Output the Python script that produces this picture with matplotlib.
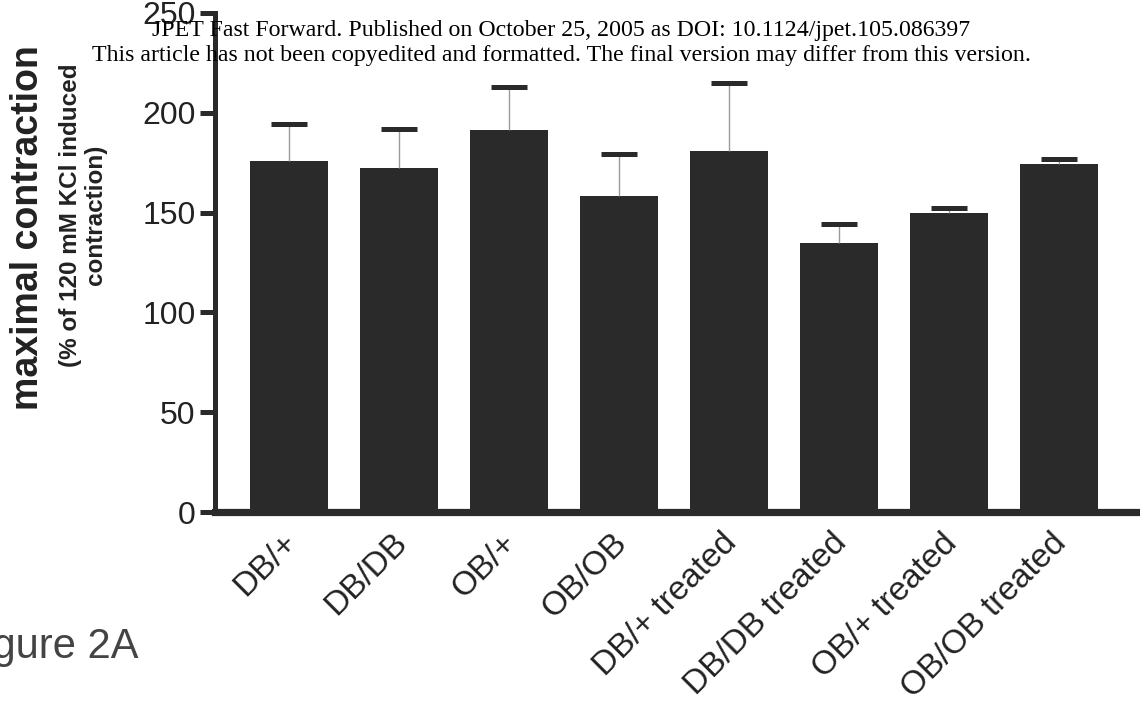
import numpy as np
import matplotlib.pyplot as plt
import matplotlib.transforms as mtransforms

groups = ["DB/+", "DB/DB", "OB/+", "OB/OB",
          "DB/+ treated", "DB/DB treated", "OB/+ treated", "OB/OB treated"]
means = [176, 172.5, 191.5, 158.5, 181, 135, 150, 174.5]
upper = [194.5, 192, 213, 179.5, 215, 144.5, 152.5, 177]
yticks = [0, 50, 100, 150, 200, 250]

W, H = 1140, 703
plt.rcParams['font.family'] = ['Liberation Sans', 'DejaVu Sans']

fig = plt.figure(figsize=(W / 100, H / 100), dpi=100)
ax = fig.add_axes([215 / W, 191 / H, (W - 215) / W, 499 / H])

x = np.arange(len(groups))
sem = np.array(upper) - np.array(means)
dark = '#2a2a2a'

ax.bar(x, means, width=0.71, color=dark, zorder=2)
eb = ax.errorbar(x, means, yerr=[np.zeros_like(sem), sem], fmt='none',
                 ecolor='#9a9a9a', elinewidth=1.0, capsize=13, capthick=3.6,
                 zorder=3)
for cap in eb[1]:
    cap.set_markeredgecolor(dark)
    # only the upper caps are shown; the lower ones sit on the bar tops
    if np.allclose(cap.get_ydata(), means):
        cap.set_visible(False)

ax.set_xlim(-0.673, 7.736)
ax.set_ylim(0, 250)
ax.set_yticks(yticks)
ax.set_yticklabels([str(v) for v in yticks], fontsize=23, color='#222222')
ax.tick_params(axis='y', length=11, width=3.6, color=dark, pad=3)

ax.set_xticks(x)
ax.set_xticklabels(groups, rotation=45, ha='right', rotation_mode='anchor',
                   fontsize=24, color='#222222')
ax.tick_params(axis='x', length=0, pad=11)
shift = mtransforms.ScaledTranslation(-8 / 100, 0, fig.dpi_scale_trans)
for lbl in ax.get_xticklabels():
    lbl.set_transform(lbl.get_transform() + shift)

for s in ['top', 'right']:
    ax.spines[s].set_visible(False)
ax.spines['left'].set_linewidth(3.6)
ax.spines['left'].set_color(dark)
ax.spines['bottom'].set_linewidth(5.2)
ax.spines['bottom'].set_color(dark)
ax.spines['left'].set_bounds(0, 250)

# axis titles
fig.text(28 / W, 1 - 228 / H, "maximal contraction", rotation=90,
         ha='center', va='center', fontsize=27, fontweight='bold',
         color='#222222')
fig.text(83 / W, 1 - 215 / H, "(% of 120 mM KCl induced\ncontraction)",
         rotation=90, ha='center', va='center', fontsize=17.5,
         fontweight='bold', color='#222222', linespacing=1.1,
         multialignment='center')

# journal banner
fig.text(561 / W, 1 - 36 / H,
         "JPET Fast Forward. Published on October 25, 2005 as DOI: 10.1124/jpet.105.086397",
         ha='center', va='baseline', fontsize=17.2, family='Liberation Serif')
fig.text(561 / W, 1 - 61 / H,
         "This article has not been copyedited and formatted. The final version may differ from this version.",
         ha='center', va='baseline', fontsize=17.2, family='Liberation Serif')

fig.text(138 / W, 1 - 658 / H, "Figure 2A", ha='right', va='baseline',
         fontsize=30, color='#444444')

fig.savefig("out.png", dpi=100)
